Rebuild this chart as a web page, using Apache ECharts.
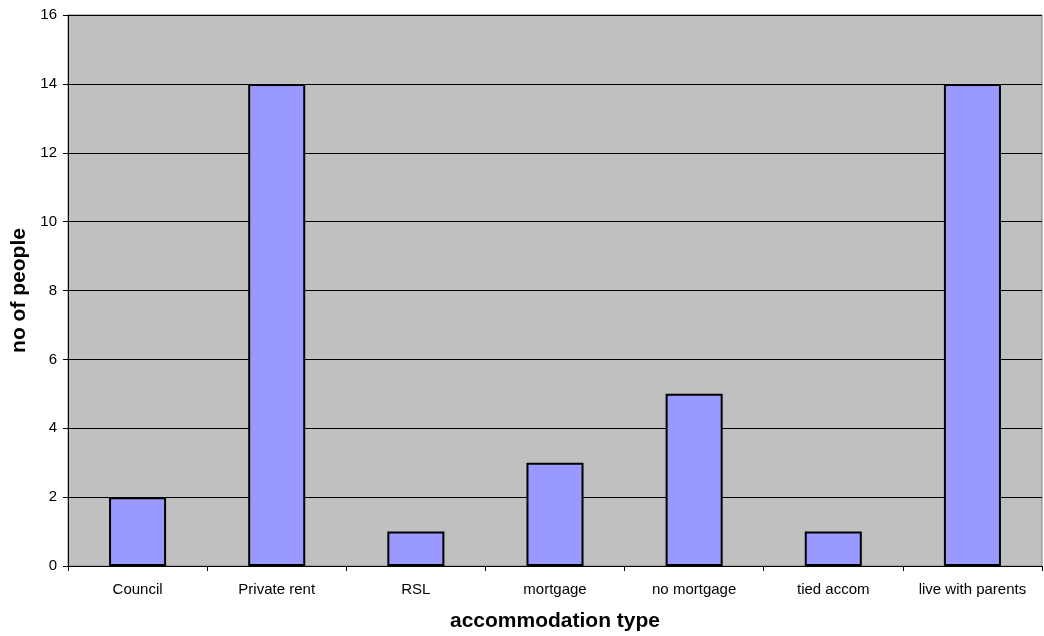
<!DOCTYPE html>
<html>
<head>
<meta charset="utf-8">
<script src="https://cdn.jsdelivr.net/npm/echarts@6/dist/echarts.min.js"></script>
<style>
  html, body { margin: 0; padding: 0; background: #fff; }
  #chart { width: 1044px; height: 636px; }
</style>
</head>
<body>
<div id="chart"></div>
<script>
// Accommodation type counts
const categories = ['Council', 'Private rent', 'RSL', 'mortgage', 'no mortgage', 'tied accom', 'live with parents'];
const people = [2, 14, 1, 3, 5, 1, 14];
const yTicks = { min: 0, max: 16, interval: 2 };

const chart = echarts.init(document.getElementById('chart'), null, { renderer: 'canvas' });
const font = '"Liberation Sans", Arial, sans-serif';

chart.setOption({
  animation: false,
  backgroundColor: '#ffffff',
  grid: {
    left: 68, right: 2, top: 15, bottom: 70,
    containLabel: false,
    outerBoundsMode: 'none',
    show: true,
    backgroundColor: '#c0c0c0',
    borderColor: '#808080',
    borderWidth: 1
  },
  xAxis: {
    type: 'category',
    data: categories,
    name: 'accommodation type',
    nameLocation: 'middle',
    nameGap: 45,
    nameTextStyle: { fontFamily: font, fontSize: 21, fontWeight: 'bold', color: '#000' },
    axisLine: { lineStyle: { color: '#000', width: 1 } },
    axisTick: { show: true, alignWithLabel: false, length: 5, lineStyle: { color: '#000' } },
    axisLabel: { fontFamily: font, fontSize: 15, color: '#000', margin: 16, interval: 0 }
  },
  yAxis: {
    type: 'value',
    min: yTicks.min, max: yTicks.max, interval: yTicks.interval,
    name: 'no of people',
    nameLocation: 'middle',
    nameGap: 36,
    nameTextStyle: { fontFamily: font, fontSize: 21, fontWeight: 'bold', color: '#000' },
    axisLine: { show: true, lineStyle: { color: '#000', width: 1 } },
    axisTick: { show: true, length: 5, lineStyle: { color: '#000' } },
    axisLabel: { fontFamily: font, fontSize: 15, color: '#000', margin: 11 },
    splitLine: { show: true, lineStyle: { color: '#000', width: 1 } }
  },
  series: [{
    type: 'bar',
    data: people,
    barCategoryGap: '59%',
    itemStyle: { color: '#9999ff', borderColor: '#000', borderWidth: 2 }
  }]
});
</script>
</body>
</html>
